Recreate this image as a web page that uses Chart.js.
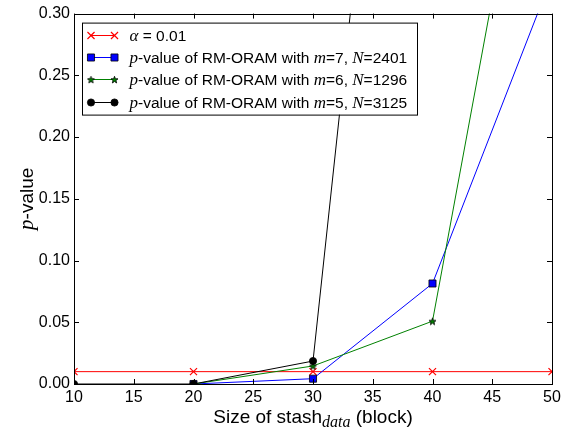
<!DOCTYPE html>
<html>
<head>
<meta charset="utf-8">
<script src="https://cdn.jsdelivr.net/npm/chart.js@4"></script>
<style>
  body { margin: 0; background: #fff; }
  #wrap { width: 577px; height: 432px; }
</style>
</head>
<body>
<div id="wrap"><canvas id="myChart" width="577" height="432"></canvas></div>
<script>
// data
const stashSizes = [10, 20, 30, 40, 50];
const alphaLevel = [0.01, 0.01, 0.01, 0.01, 0.01];
const pM7N2401 = [null, 0, 0.0043, 0.0814, 0.33];
const pM6N1296 = [null, 0, 0.0146, 0.0509, 0.574];
const pM5N3125 = [0, 0, 0.0186, 0.92, null];
const xTicks = [10, 15, 20, 25, 30, 35, 40, 45, 50];
const yTicks = [0, 0.05, 0.1, 0.15, 0.2, 0.25, 0.3];
const mValues = [7, 6, 5];
const nValues = [2401, 1296, 3125];

const SANS = '"Liberation Sans", Arial, sans-serif';
const MATH = '"Liberation Serif", "DejaVu Serif", serif';

const toPoints = (vals) => stashSizes.map((x, i) => ({ x: x, y: vals[i] }));

// matplotlib style filled star marker
function starMarker(size, fill) {
  const c = document.createElement("canvas");
  c.width = size;
  c.height = size;
  const g = c.getContext("2d");
  const cx = size / 2, cy = size / 2 + 0.5;
  const ro = size / 2 - 0.8, ri = ro * 0.42;
  g.beginPath();
  for (let k = 0; k < 10; k++) {
    const r = k % 2 === 0 ? ro : ri;
    const a = -Math.PI / 2 + (k * Math.PI) / 5;
    const px = cx + r * Math.cos(a), py = cy + r * Math.sin(a);
    if (k === 0) g.moveTo(px, py); else g.lineTo(px, py);
  }
  g.closePath();
  g.fillStyle = fill;
  g.fill();
  g.lineWidth = 0.8;
  g.strokeStyle = "#000";
  g.stroke();
  return c;
}
const star = starMarker(9, "#008000");

function drawRuns(ctx, runs, x, y) {
  ctx.textAlign = "left";
  ctx.textBaseline = "alphabetic";
  for (const r of runs) {
    ctx.font = r.font;
    ctx.fillText(r.t, x, y + (r.dy || 0));
    x += ctx.measureText(r.t).width;
  }
  return x;
}
function runsWidth(ctx, runs) {
  let w = 0;
  for (const r of runs) { ctx.font = r.font; w += ctx.measureText(r.t).width; }
  return w;
}

const legendFont = "15.5px " + SANS;
const legendMath = "italic 17px " + MATH;
const legendRows = [
  { color: "#ff0000", style: "crossRot", radius: 5, fill: "#ff0000",
    runs: [{ t: "\u03b1", font: legendMath }, { t: " = 0.01", font: legendFont }] }
];
const rowStyles = [
  { color: "#0000ff", style: "rect", radius: 5, fill: "#0000ff" },
  { color: "#008000", style: star, radius: 4, fill: "#008000" },
  { color: "#000000", style: "circle", radius: 3.6, fill: "#000000" }
];
mValues.forEach((m, i) => {
  legendRows.push(Object.assign({}, rowStyles[i], {
    runs: [
      { t: "p", font: legendMath },
      { t: "-value of RM-ORAM with ", font: legendFont },
      { t: "m", font: legendMath },
      { t: "=" + m + ", ", font: legendFont },
      { t: "N", font: legendMath },
      { t: "=" + nValues[i], font: legendFont }
    ]
  }));
});

const framePlugin = {
  id: "frame",
  afterDatasetsDraw(chart) {
    const ctx = chart.ctx;
    const a = chart.chartArea;
    const xs = chart.scales.x, ys = chart.scales.y;
    ctx.save();
    ctx.strokeStyle = "#000";
    ctx.lineWidth = 1;
    // inside ticks on all four sides
    ctx.beginPath();
    xTicks.forEach((v) => {
      const px = Math.round(xs.getPixelForValue(v)) + 0.5;
      ctx.moveTo(px, a.bottom); ctx.lineTo(px, a.bottom - 5);
      ctx.moveTo(px, a.top); ctx.lineTo(px, a.top + 5);
    });
    yTicks.forEach((v) => {
      const py = Math.round(ys.getPixelForValue(v)) + 0.5;
      ctx.moveTo(a.left, py); ctx.lineTo(a.left + 5, py);
      ctx.moveTo(a.right, py); ctx.lineTo(a.right - 5, py);
    });
    ctx.stroke();
    ctx.strokeRect(Math.round(a.left) + 0.5, Math.round(a.top) + 0.5,
      Math.round(a.right - a.left), Math.round(a.bottom - a.top));

    // legend box
    const lx = a.left + 8.5, ly = a.top + 9.5;
    const rowH = 22.4;
    let maxW = 0;
    legendRows.forEach((r) => { maxW = Math.max(maxW, runsWidth(ctx, r.runs)); });
    const boxW = 48 + maxW + 9, boxH = rowH * legendRows.length + 2;
    ctx.fillStyle = "#fff";
    ctx.fillRect(lx, ly, boxW, boxH);
    ctx.strokeStyle = "#000";
    ctx.strokeRect(lx, ly, Math.round(boxW), Math.round(boxH));
    legendRows.forEach((r, i) => {
      const cy = ly + 11.5 + i * rowH;
      const x0 = lx + 8.5, x1 = lx + 32;
      ctx.strokeStyle = r.color;
      ctx.lineWidth = 1;
      ctx.beginPath();
      ctx.moveTo(x0, Math.round(cy) + 0.5);
      ctx.lineTo(x1, Math.round(cy) + 0.5);
      ctx.stroke();
      const opts = {
        pointStyle: r.style, radius: r.radius, rotation: 0,
        borderWidth: r.style === "crossRot" ? 1.2 : 0.8
      };
      [x0, x1].forEach((px) => {
        ctx.fillStyle = r.fill;
        ctx.strokeStyle = r.style === "crossRot" ? r.color : "#000";
        ctx.lineWidth = opts.borderWidth;
        Chart.helpers.drawPoint(ctx, opts, px, Math.round(cy) + 0.5);
      });
      ctx.fillStyle = "#000";
      drawRuns(ctx, r.runs, lx + 47, cy + 6);
    });

    // axis titles
    ctx.fillStyle = "#000";
    const xRuns = [
      { t: "Size of stash", font: "19px " + SANS },
      { t: "data", font: "italic 16px " + MATH, dy: 4 },
      { t: " (block)", font: "19px " + SANS }
    ];
    const cx = (a.left + a.right) / 2;
    drawRuns(ctx, xRuns, cx - runsWidth(ctx, xRuns) / 2, 423);
    const yRuns = [
      { t: "p", font: "italic 21px " + MATH },
      { t: "-value", font: "19px " + SANS }
    ];
    ctx.translate(33, (a.top + a.bottom) / 2);
    ctx.rotate(-Math.PI / 2);
    drawRuns(ctx, yRuns, -runsWidth(ctx, yRuns) / 2, 0);
    ctx.restore();
  }
};

const common = { borderWidth: 1, pointBorderWidth: 0.8, pointBorderColor: "#000", tension: 0, spanGaps: false };

new Chart(document.getElementById("myChart").getContext("2d"), {
  type: "line",
  data: {
    datasets: [
      Object.assign({}, common, {
        label: "alpha = 0.01", data: toPoints(alphaLevel), order: 4,
        borderColor: "#ff0000", pointStyle: "crossRot", pointRadius: 5,
        pointBorderColor: "#ff0000", pointBorderWidth: 1.2
      }),
      Object.assign({}, common, {
        label: "m=7, N=2401", data: toPoints(pM7N2401), order: 3,
        borderColor: "#0000ff", pointStyle: "rect", pointRadius: 5,
        pointBackgroundColor: "#0000ff"
      }),
      Object.assign({}, common, {
        label: "m=6, N=1296", data: toPoints(pM6N1296), order: 2,
        borderColor: "#008000", pointStyle: star, pointRadius: 4,
        pointBackgroundColor: "#008000"
      }),
      Object.assign({}, common, {
        label: "m=5, N=3125", data: toPoints(pM5N3125), order: 1,
        borderColor: "#000000", pointStyle: "circle", pointRadius: 3.6,
        pointBackgroundColor: "#000000"
      })
    ]
  },
  options: {
    responsive: false,
    animation: false,
    layout: { padding: { top: 12, right: 25, left: 0, bottom: 0 } },
    plugins: { legend: { display: false }, tooltip: { enabled: false } },
    elements: { point: { hoverRadius: 0 } },
    scales: {
      x: {
        type: "linear", min: 10, max: 50,
        afterFit: (s) => { s.height = 48; },
        afterBuildTicks: (s) => { s.ticks = xTicks.map((v) => ({ value: v })); },
        grid: { display: false, drawTicks: false },
        border: { display: false },
        ticks: { color: "#000", padding: 4, font: { family: SANS, size: 16 }, maxRotation: 0 }
      },
      y: {
        type: "linear", min: 0, max: 0.3,
        afterFit: (s) => { s.width = 74; },
        afterBuildTicks: (s) => { s.ticks = yTicks.map((v) => ({ value: v })); },
        grid: { display: false, drawTicks: false },
        border: { display: false },
        ticks: {
          color: "#000", padding: 4, font: { family: SANS, size: 16 },
          callback: (v) => Number(v).toFixed(2)
        }
      }
    }
  },
  plugins: [framePlugin]
});
</script>
</body>
</html>
